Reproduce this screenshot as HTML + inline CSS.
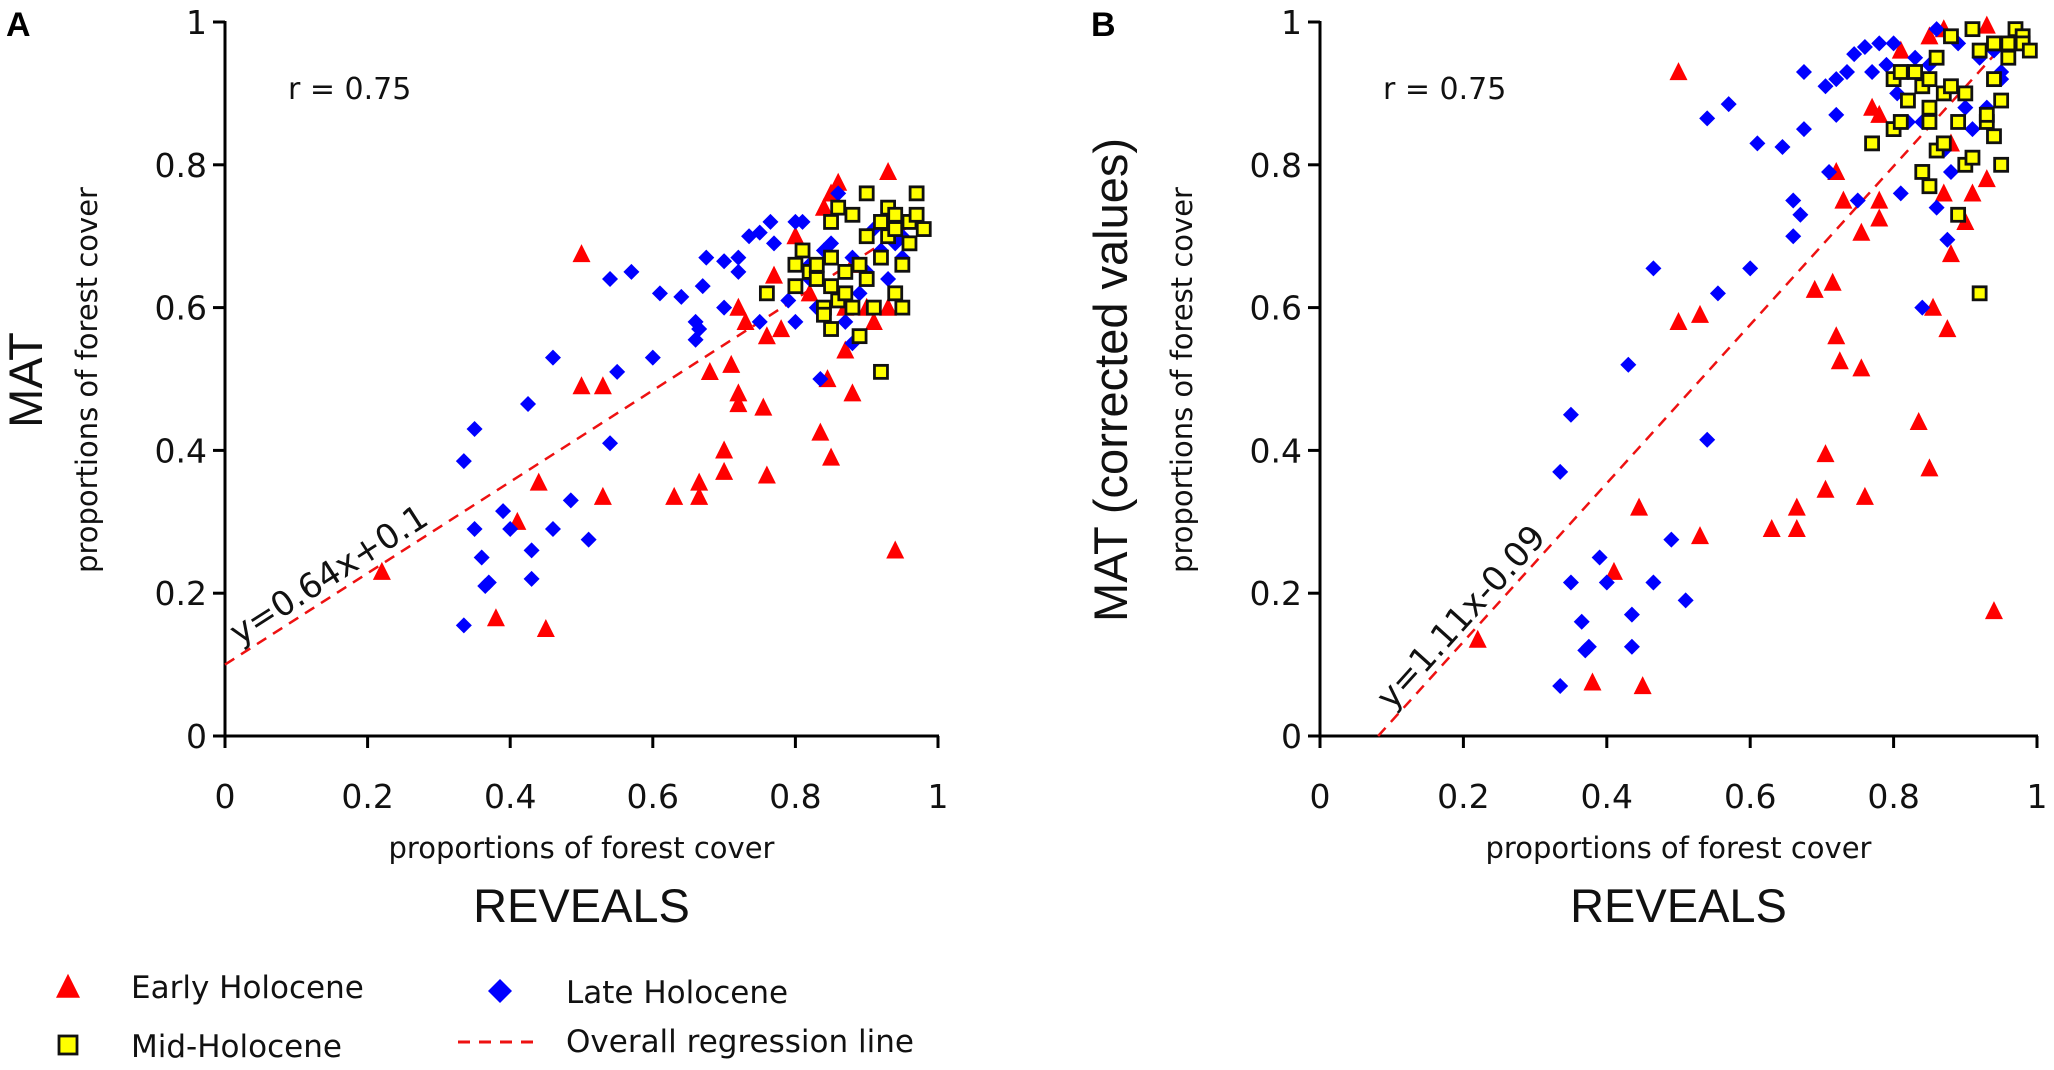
<!DOCTYPE html>
<html><head><meta charset="utf-8"><style>
html,body{margin:0;padding:0;background:#fff;}
svg{display:block;font-family:"DejaVu Sans","Liberation Sans",sans-serif;}
</style></head><body>
<svg id="chart" width="2054" height="1070" viewBox="0 0 2054 1070"></svg>
<script>
const ticks = [0, 0.2, 0.4, 0.6, 0.8, 1];
const tickLabels = ["0", "0.2", "0.4", "0.6", "0.8", "1"];
const regA = [0.64, 0.1];
const regB = [1.11, -0.09];
const earlyAx = [0.22,0.38,0.45,0.41,0.44,0.5,0.5,0.53,0.53,0.63,0.665,0.665,0.7,0.7,0.68,0.71,0.72,0.72,0.755,0.76,0.73,0.72,0.76,0.78,0.77,0.835,0.85,0.845,0.88,0.87,0.94,0.93,0.86,0.85,0.84,0.9,0.91,0.93,0.87,0.8,0.82,0.88];
const earlyAy = [0.23,0.165,0.15,0.30,0.355,0.675,0.49,0.49,0.335,0.335,0.335,0.355,0.4,0.37,0.51,0.52,0.48,0.465,0.46,0.365,0.58,0.6,0.56,0.57,0.645,0.425,0.39,0.5,0.48,0.54,0.26,0.79,0.775,0.76,0.74,0.6,0.58,0.6,0.6,0.7,0.62,0.66];
const lateAx = [0.335,0.335,0.35,0.35,0.36,0.365,0.37,0.39,0.4,0.425,0.43,0.43,0.46,0.46,0.485,0.51,0.54,0.54,0.55,0.57,0.6,0.61,0.64,0.66,0.66,0.665,0.67,0.675,0.7,0.7,0.72,0.72,0.735,0.75,0.75,0.765,0.77,0.8,0.81,0.8,0.79,0.82,0.83,0.84,0.835,0.86,0.85,0.87,0.88,0.88,0.9,0.91,0.92,0.93,0.94,0.95,0.95,0.89,0.86,0.82];
const lateAy = [0.155,0.385,0.43,0.29,0.25,0.21,0.215,0.315,0.29,0.465,0.22,0.26,0.53,0.29,0.33,0.275,0.41,0.64,0.51,0.65,0.53,0.62,0.615,0.555,0.58,0.57,0.63,0.67,0.6,0.665,0.67,0.65,0.7,0.705,0.58,0.72,0.69,0.72,0.72,0.58,0.61,0.64,0.6,0.68,0.5,0.76,0.69,0.58,0.55,0.67,0.65,0.71,0.68,0.64,0.69,0.67,0.7,0.62,0.62,0.66];
const midAx = [0.76,0.8,0.8,0.81,0.82,0.83,0.83,0.84,0.84,0.85,0.85,0.85,0.85,0.86,0.86,0.87,0.87,0.88,0.88,0.89,0.89,0.9,0.9,0.9,0.91,0.92,0.92,0.93,0.93,0.94,0.94,0.95,0.95,0.96,0.96,0.97,0.97,0.98,0.94,0.92];
const midAy = [0.62,0.63,0.66,0.68,0.65,0.64,0.66,0.6,0.59,0.57,0.63,0.67,0.72,0.74,0.61,0.62,0.65,0.73,0.6,0.56,0.66,0.76,0.7,0.64,0.6,0.51,0.72,0.74,0.7,0.62,0.73,0.6,0.66,0.72,0.69,0.76,0.73,0.71,0.71,0.67];
const earlyBx = [0.22,0.38,0.45,0.41,0.445,0.5,0.5,0.53,0.53,0.63,0.665,0.665,0.705,0.705,0.69,0.715,0.72,0.725,0.755,0.76,0.73,0.72,0.755,0.78,0.78,0.835,0.85,0.855,0.875,0.88,0.94,0.93,0.91,0.9,0.87,0.77,0.78,0.85,0.87,0.93,0.81,0.88];
const earlyBy = [0.135,0.075,0.07,0.23,0.32,0.93,0.58,0.59,0.28,0.29,0.29,0.32,0.395,0.345,0.625,0.635,0.56,0.525,0.515,0.335,0.75,0.79,0.705,0.725,0.75,0.44,0.375,0.6,0.57,0.675,0.175,0.78,0.76,0.72,0.76,0.88,0.87,0.98,0.99,0.995,0.96,0.83];
const lateBx = [0.335,0.335,0.35,0.35,0.365,0.37,0.375,0.39,0.4,0.43,0.435,0.435,0.465,0.465,0.49,0.51,0.54,0.54,0.555,0.57,0.6,0.61,0.645,0.66,0.66,0.67,0.675,0.675,0.71,0.705,0.72,0.72,0.735,0.745,0.75,0.76,0.77,0.79,0.8,0.81,0.805,0.82,0.84,0.84,0.85,0.86,0.87,0.875,0.88,0.9,0.91,0.92,0.93,0.94,0.95,0.95,0.89,0.86,0.78,0.83];
const lateBy = [0.07,0.37,0.45,0.215,0.16,0.12,0.125,0.25,0.215,0.52,0.17,0.125,0.655,0.215,0.275,0.19,0.415,0.865,0.62,0.885,0.655,0.83,0.825,0.75,0.7,0.73,0.85,0.93,0.79,0.91,0.87,0.92,0.93,0.955,0.75,0.965,0.93,0.94,0.97,0.76,0.9,0.86,0.86,0.6,0.94,0.74,0.82,0.695,0.79,0.88,0.85,0.95,0.88,0.96,0.93,0.92,0.97,0.99,0.97,0.95];
const midBx = [0.77,0.8,0.8,0.81,0.81,0.82,0.83,0.84,0.84,0.85,0.85,0.85,0.86,0.86,0.87,0.87,0.88,0.88,0.89,0.89,0.9,0.9,0.91,0.91,0.92,0.92,0.93,0.93,0.94,0.94,0.95,0.95,0.96,0.96,0.97,0.98,0.98,0.99,0.94,0.85];
const midBy = [0.83,0.85,0.92,0.86,0.93,0.89,0.93,0.91,0.79,0.77,0.86,0.88,0.82,0.95,0.83,0.9,0.91,0.98,0.73,0.86,0.8,0.9,0.99,0.81,0.62,0.96,0.86,0.87,0.84,0.92,0.8,0.89,0.97,0.95,0.99,0.98,0.97,0.96,0.97,0.92];

const NS = "http://www.w3.org/2000/svg";
const svg = document.getElementById('chart');
function mk(tag, attrs, parent, text) {
  const e = document.createElementNS(NS, tag);
  for (const k in attrs) e.setAttribute(k, attrs[k]);
  if (text !== undefined) e.textContent = text;
  (parent || svg).appendChild(e);
  return e;
}
function tri(g, cx, cy, s) {
  return mk('polygon', {points: `${cx},${cy-s*0.55} ${cx-s*0.5},${cy+s*0.45} ${cx+s*0.5},${cy+s*0.45}`, fill: '#ff0000'}, g);
}
function dia(g, cx, cy, s) {
  return mk('polygon', {points: `${cx},${cy-s/2} ${cx+s/2},${cy} ${cx},${cy+s/2} ${cx-s/2},${cy}`, fill: '#0000ff'}, g);
}
function sq(g, cx, cy, s) {
  return mk('rect', {x: cx-s/2, y: cy-s/2, width: s, height: s, fill: '#ffff00', stroke: '#111', 'stroke-width': 2.8}, g);
}

function panel(key, x0, x1, yl, yTitle, ex, ey, lx, ly, mx, my, reg, eqText, eqStart) {
  const y0 = 736, y1 = 22;
  const X = v => x0 + v * (x1 - x0);
  const Y = v => y0 - v * (y0 - y1);
  const g = mk('g', {});
  
  
  const ax = mk('g', {stroke: '#000', 'stroke-width': 3}, g);
  
  
  mk('line', {x1: x0, y1: y1 - 1, x2: x0, y2: y0 + 10}, ax);
  mk('line', {x1: x0 - 10, y1: y0, x2: x1 + 1, y2: y0}, ax);
  ticks.forEach((t, i) => {
    mk('line', {x1: X(t), y1: y0, x2: X(t), y2: y0 + 12}, ax);
    mk('line', {x1: x0 - 12, y1: Y(t), x2: x0, y2: Y(t)}, ax);
    const xl = mk('text', {x: X(t), y: 808, 'text-anchor': 'middle', 'font-size': 33, fill: '#111'}, g, tickLabels[i]);
    
    
    const ylb = mk('text', {x: x0 - 18, y: Y(t) + 12, 'text-anchor': 'end', 'font-size': 33, fill: '#111'}, g, tickLabels[i]);
    
    
  });
  const xa = Math.max(0, -reg[1] / reg[0]);
  const xb = Math.min(1, (1 - reg[1]) / reg[0], 0.975);
  const rl = mk('line', {x1: X(xa), y1: Y(reg[0]*xa+reg[1]), x2: X(xb), y2: Y(reg[0]*xb+reg[1]), stroke: '#ee1111', 'stroke-width': 2.5, 'stroke-dasharray': '11,8'}, g);
  
  
  const ge = mk('g', {}, g);
  
  
  ex.forEach((v, i) => { const p = tri(ge, X(v), Y(ey[i]), 18);   });
  const gl = mk('g', {}, g);
  
  
  lx.forEach((v, i) => { const p = dia(gl, X(v), Y(ly[i]), 16);   });
  const gm = mk('g', {}, g);
  
  
  mx.forEach((v, i) => { const p = sq(gm, X(v), Y(my[i]), 13);   });
  const ang = -Math.atan(reg[0]) * 180 / Math.PI;
  const ex0 = X(eqStart), ey0 = Y(reg[0]*eqStart+reg[1]) - 10;
  const eq = mk('text', {x: ex0, y: ey0, 'font-size': 34, fill: '#111', transform: `rotate(${ang} ${ex0} ${ey0})`}, g, eqText);
  
  
  const r = mk('text', {x: x0 + 63, y: 99, 'font-size': 30, fill: '#111'}, g, 'r = 0.75');
  
  
  const cx = (x0 + x1) / 2;
  const xt = mk('text', {x: cx, y: 858, 'text-anchor': 'middle', 'font-size': 29, fill: '#111'}, g, 'proportions of forest cover');
  
  
  const xr = mk('text', {x: cx, y: 922, 'text-anchor': 'middle', 'font-size': 47, fill: '#111', 'font-family': 'Liberation Sans, sans-serif'}, g, 'REVEALS');
  
  
  const yp = mk('text', {x: 0, y: 0, 'text-anchor': 'middle', 'font-size': 29, fill: '#111', transform: `translate(${x0-128} 380) rotate(-90)`}, g, 'proportions of forest cover');
  
  
  const yt = mk('text', {x: 0, y: 0, 'text-anchor': 'middle', 'font-size': 47, fill: '#111', 'font-family': 'Liberation Sans, sans-serif', transform: `translate(${yl} 380) rotate(-90)`}, g, yTitle);
  
  
}

panel('a', 225, 938, 42, 'MAT', earlyAx, earlyAy, lateAx, lateAy, midAx, midAy, regA, 'y=0.64x+0.1', 0.02);
panel('b', 1320, 2037, 1127, 'MAT (corrected values)', earlyBx, earlyBy, lateBx, lateBy, midBx, midBy, regB, 'y=1.11x-0.09', 0.1);

const la = mk('text', {x: 6, y: 36, 'font-size': 34, 'font-weight': 'bold', fill: '#000', 'font-family': 'Liberation Sans, sans-serif'}, svg, 'A');


const lb = mk('text', {x: 1091, y: 36, 'font-size': 34, 'font-weight': 'bold', fill: '#000', 'font-family': 'Liberation Sans, sans-serif'}, svg, 'B');



const lg = mk('g', {});


const e1 = mk('g', {}, lg);


tri(e1, 68, 987, 24);
mk('text', {x: 131, y: 998, 'font-size': 31, fill: '#111'}, e1, 'Early Holocene');
const e2 = mk('g', {}, lg);


sq(e2, 68, 1045, 18);
mk('text', {x: 131, y: 1057, 'font-size': 31, fill: '#111'}, e2, 'Mid-Holocene');
const e3 = mk('g', {}, lg);


dia(e3, 500, 991, 24);
mk('text', {x: 566, y: 1003, 'font-size': 31, fill: '#111'}, e3, 'Late Holocene');
const e4 = mk('g', {}, lg);


mk('line', {x1: 458, y1: 1042, x2: 540, y2: 1042, stroke: '#ee1111', 'stroke-width': 3, 'stroke-dasharray': '12,9'}, e4);
mk('text', {x: 566, y: 1052, 'font-size': 31, fill: '#111'}, e4, 'Overall regression line');
</script>
</body></html>
